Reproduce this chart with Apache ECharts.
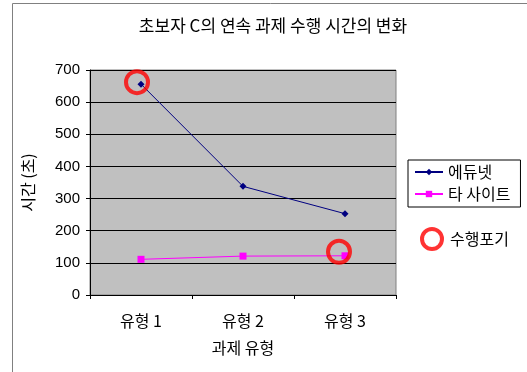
<!DOCTYPE html>
<html>
<head>
<meta charset="utf-8">
<script src="https://cdn.jsdelivr.net/npm/echarts@6/dist/echarts.min.js"></script>
<style>
  html, body { margin: 0; padding: 0; background: #fff; }
  #chart { width: 527px; height: 372px; }
</style>
</head>
<body>
<div id="chart"></div>
<script>
  // 과제 유형별 수행 시간 (초)
  var categories = ['유형 1', '유형 2', '유형 3']
  var edunet = [656, 338, 253]
  var otherSite = [111, 121, 122]
  // 수행포기 표시: [카테고리 index, 값]
  var giveUp = [[0, 656], [2, 122]]

  var font = 'Noto Sans CJK KR'

  var chart = echarts.init(document.getElementById('chart'))

  chart.setOption({
    animation: false,
    textStyle: { fontFamily: font },
    graphic: [
      {
        type: 'rect',
        shape: { x: 12.5, y: 3.5, width: 530, height: 380 },
        style: { fill: 'none', stroke: '#808080', lineWidth: 1 },
        silent: true
      }
    ],
    title: {
      text: '초보자 C의 연속 과제 수행 시간의 변화',
      left: 268,
      top: 12,
      textAlign: 'center',
      textStyle: { fontSize: 17, fontWeight: 'normal', color: '#000', fontFamily: font }
    },
    legend: [
      {
        data: ['에듀넷', '타 사이트'],
        orient: 'vertical',
        left: 408,
        top: 160,
        padding: [4, 10, 5, 6],
        itemGap: 6,
        itemWidth: 28,
        itemHeight: 8,
        borderColor: '#000',
        borderWidth: 1,
        textStyle: { fontSize: 16, color: '#000', fontFamily: font }
      },
      {
        data: ['수행포기'],
        left: 415,
        top: 222,
        icon: 'circle',
        itemWidth: 20,
        itemHeight: 20,
        itemStyle: { color: 'transparent', borderColor: '#ff0000', borderWidth: 4 },
        textStyle: { fontSize: 16, color: '#000', fontFamily: font, padding: [0, 0, 0, 3] }
      }
    ],
    grid: {
      left: 90,
      top: 70,
      width: 306,
      height: 225,
      show: true,
      backgroundColor: '#c0c0c0',
      borderColor: '#808080',
      borderWidth: 1
    },
    xAxis: {
      type: 'category',
      data: categories,
      boundaryGap: true,
      name: '과제 유형',
      nameLocation: 'middle',
      nameGap: 45,
      nameTextStyle: { fontSize: 16, color: '#000' },
      axisLine: { lineStyle: { color: '#000', width: 1 } },
      axisTick: { show: true, length: 4, inside: false, lineStyle: { color: '#000' } },
      axisLabel: { fontSize: 16, color: '#000', margin: 18 },
      splitLine: { show: false }
    },
    yAxis: {
      type: 'value',
      min: 0,
      max: 700,
      interval: 100,
      name: '시간 (초)',
      nameLocation: 'middle',
      nameGap: 54,
      nameRotate: 90,
      nameTextStyle: { fontSize: 16, color: '#000' },
      axisLine: { show: true, lineStyle: { color: '#000', width: 1 } },
      axisTick: { show: true, length: 4, lineStyle: { color: '#000' } },
      axisLabel: { fontSize: 15, color: '#000', margin: 10, fontFamily: 'Liberation Sans' },
      splitLine: { show: true, lineStyle: { color: '#000', width: 1 } }
    },
    series: [
      {
        name: '에듀넷',
        type: 'line',
        data: edunet,
        symbol: 'diamond',
        symbolSize: 7,
        color: '#000080',
        lineStyle: { width: 1, color: '#000080' },
        itemStyle: { color: '#000080' },
        z: 3
      },
      {
        name: '타 사이트',
        type: 'line',
        data: otherSite,
        symbol: 'rect',
        symbolSize: 7,
        color: '#ff00ff',
        lineStyle: { width: 1, color: '#ff00ff' },
        itemStyle: { color: '#ff00ff' },
        z: 3
      },
      {
        name: '수행포기',
        type: 'scatter',
        data: [
          { value: giveUp[0], symbolOffset: [-4, -2] },
          { value: giveUp[1], symbolOffset: [-6, -4] }
        ],
        symbol: 'circle',
        symbolSize: 22,
        itemStyle: { color: 'transparent', borderColor: '#ff0000', borderWidth: 4 },
        z: 5
      }
    ]
  })
</script>
</body>
</html>
